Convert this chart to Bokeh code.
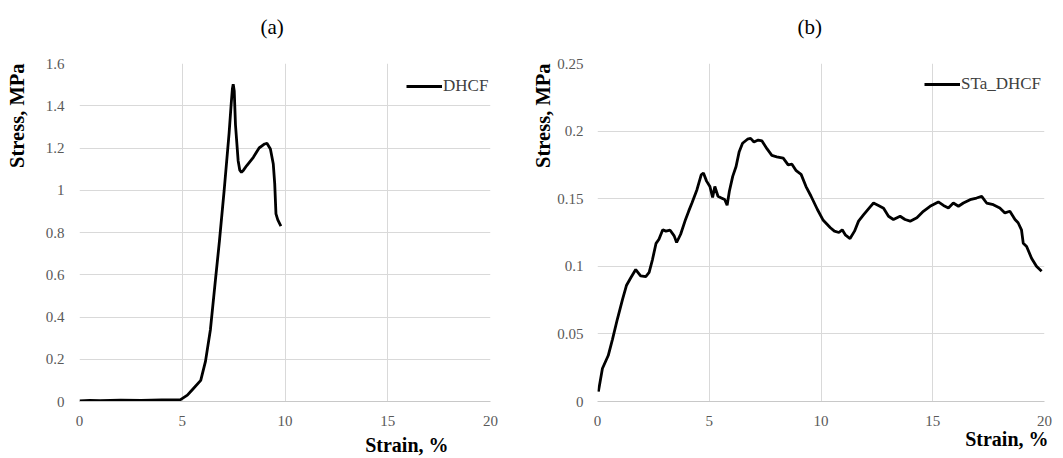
from bokeh.plotting import figure
from bokeh.layouts import row
from bokeh.models import Range1d, FixedTicker, Legend, LegendItem, Title
from bokeh.embed import file_html
from bokeh.resources import INLINE

# ---------------- data ----------------
strain_a = [0.0, 0.5, 1.0, 2.0, 3.0, 4.0, 4.9, 5.25, 5.5, 5.9, 6.13, 6.37, 6.62, 6.81,
            7.04, 7.28, 7.39, 7.44, 7.48, 7.53, 7.59, 7.72, 7.8, 7.88, 7.98, 8.14, 8.46,
            8.74, 9.01, 9.12, 9.29, 9.43, 9.5, 9.56, 9.65, 9.8]
stress_a = [0.003, 0.005, 0.004, 0.006, 0.005, 0.007, 0.008, 0.03, 0.057, 0.1, 0.19, 0.34,
            0.58, 0.76, 1.0, 1.27, 1.42, 1.48, 1.502, 1.47, 1.31, 1.14, 1.095, 1.085, 1.095,
            1.117, 1.156, 1.2, 1.219, 1.222, 1.195, 1.124, 1.03, 0.888, 0.86, 0.83]

strain_b = [0.04, 0.22, 0.48, 0.67, 0.89, 1.12, 1.3, 1.49, 1.71, 1.93, 2.16, 2.31, 2.46,
            2.62, 2.75, 2.92, 3.06, 3.25, 3.43, 3.54, 3.72, 3.94, 4.08, 4.23, 4.45, 4.64,
            4.74, 4.88, 5.03, 5.15, 5.25, 5.39, 5.54, 5.69, 5.8, 5.9, 6.05, 6.2, 6.34,
            6.49, 6.71, 6.85, 7.0, 7.19, 7.36, 7.58, 7.8, 8.02, 8.31, 8.53, 8.7, 8.89,
            9.11, 9.33, 9.55, 9.84, 10.1, 10.42, 10.6, 10.8, 10.95, 11.1, 11.3, 11.5,
            11.68, 11.9, 12.2, 12.35, 12.57, 12.8, 13.02, 13.24, 13.54, 13.76, 13.99,
            14.29, 14.58, 14.88, 15.25, 15.48, 15.7, 15.92, 16.15, 16.37, 16.67, 16.96,
            17.19, 17.41, 17.71, 18.0, 18.23, 18.45, 18.68, 18.82, 18.97, 19.05, 19.2,
            19.42, 19.64, 19.87]
stress_b = [0.0073, 0.0244, 0.034, 0.046, 0.061, 0.0756, 0.086, 0.0915, 0.0976, 0.093,
            0.0924, 0.0955, 0.105, 0.117, 0.12, 0.127, 0.126, 0.1267, 0.1225, 0.1176,
            0.1237, 0.1347, 0.1408, 0.147, 0.1567, 0.1677, 0.169, 0.163, 0.159, 0.151,
            0.159, 0.1518, 0.1506, 0.1494, 0.1452, 0.1555, 0.1665, 0.1738, 0.1848, 0.191,
            0.194, 0.1946, 0.192, 0.1934, 0.1927, 0.187, 0.182, 0.181, 0.18, 0.175,
            0.1755, 0.1707, 0.168, 0.159, 0.152, 0.142, 0.134, 0.1285, 0.126, 0.125,
            0.127, 0.123, 0.1205, 0.126, 0.1334, 0.138, 0.144, 0.1468, 0.145, 0.143,
            0.137, 0.1346, 0.137, 0.1346, 0.1334, 0.1359, 0.1407, 0.1444, 0.1476, 0.145,
            0.1432, 0.1468, 0.1444, 0.1468, 0.1493, 0.1505, 0.1517, 0.1468, 0.1456,
            0.1432, 0.1395, 0.1407, 0.1346, 0.1322, 0.127, 0.117, 0.1146, 0.106, 0.1,
            0.0963]

x_ticks = [0, 5, 10, 15, 20]
x_tick_labels = ["0", "5", "10", "15", "20"]
y_ticks_a = [0, 0.2, 0.4, 0.6, 0.8, 1.0, 1.2, 1.4, 1.6]
y_tick_labels_a = ["0", "0.2", "0.4", "0.6", "0.8", "1", "1.2", "1.4", "1.6"]
y_ticks_b = [0, 0.05, 0.1, 0.15, 0.2, 0.25]
y_tick_labels_b = ["0", "0.05", "0.1", "0.15", "0.2", "0.25"]

FONT = "Liberation Serif"
GRID = "#d9d9d9"
TICK_COLOR = "#595959"


def set_standoff(t, val, fallback=0):
    try:
        t.standoff = val
    except Exception:
        t.standoff = fallback


def make_panel(width, height, bl, br, bt, bb, ymax, yticks, ylabels, xs, ys,
               legend_label, legend_loc, legend_size, ytick_standoff,
               title, title_off, title_standoff,
               xlab_off, xlab_standoff, ylab_off, ylab_standoff, ylab_lh):
    p = figure(width=width, height=height, output_backend="svg", toolbar_location=None,
               x_range=Range1d(0, 20), y_range=Range1d(0, ymax),
               min_border_left=bl, min_border_right=br, min_border_top=bt,
               min_border_bottom=bb)
    p.outline_line_color = None
    p.background_fill_color = "white"
    p.border_fill_color = "white"

    p.xaxis.ticker = FixedTicker(ticks=x_ticks)
    p.xaxis.major_label_overrides = {t: l for t, l in zip(x_ticks, x_tick_labels)}
    p.yaxis.ticker = FixedTicker(ticks=yticks)
    p.yaxis.major_label_overrides = {t: l for t, l in zip(yticks, ylabels)}
    p.xgrid.ticker = FixedTicker(ticks=x_ticks)
    p.ygrid.ticker = FixedTicker(ticks=yticks)
    for g in (p.xgrid, p.ygrid):
        g.grid_line_color = GRID
        g.grid_line_width = 1

    for ax in (p.xaxis, p.yaxis):
        ax.major_tick_line_color = None
        ax.minor_tick_line_color = None
        ax.major_tick_out = 0
        ax.major_tick_in = 0
        ax.minor_tick_out = 0
        ax.major_label_text_font = FONT
        ax.major_label_text_font_size = "15px"
        ax.major_label_text_color = TICK_COLOR
    p.yaxis.axis_line_color = None
    p.xaxis.axis_line_color = "#c8c8c8"
    p.xaxis.major_label_standoff = 14
    p.yaxis.major_label_standoff = ytick_standoff

    r = p.line(xs, ys, line_color="black", line_width=2.8)

    leg = Legend(items=[LegendItem(label=legend_label, renderers=[r])],
                 location=legend_loc, padding=0, margin=0, spacing=0,
                 glyph_width=36, glyph_height=16, label_height=16, label_standoff=1,
                 background_fill_alpha=0, border_line_alpha=0,
                 label_text_font=FONT, label_text_font_size=legend_size,
                 label_text_color="#404040")
    p.add_layout(leg)

    t_top = Title(text=title + "\n ", align="left", offset=title_off,
                  text_font=FONT, text_font_size="21px", text_font_style="normal",
                  text_color="black")
    set_standoff(t_top, title_standoff)
    p.add_layout(t_top, "above")
    t_x = Title(text="Strain, %", align="right", offset=xlab_off,
                text_font=FONT, text_font_size="20px", text_font_style="bold",
                text_color="black")
    set_standoff(t_x, xlab_standoff)
    p.add_layout(t_x, "below")
    t_y = Title(text="Stress, MPa\n ", align="right", offset=ylab_off,
                text_font=FONT, text_font_size="20.5px", text_font_style="bold",
                text_color="black", text_line_height=ylab_lh)
    set_standoff(t_y, ylab_standoff)
    p.add_layout(t_y, "left")
    return p


pa = make_panel(530, 458, 79, 40, 63, 57, 1.6, y_ticks_a, y_tick_labels_a,
                strain_a, stress_a, "DHCF", (327, 305), "17px", 15,
                "(a)", 181, 2, 42, 6, 0, 0, 0.68)
pb = make_panel(533, 458, 67, 19, 61, 57, 0.25, y_ticks_b, y_tick_labels_b,
                strain_b, stress_b, "STa_DHCF", (327, 307), "17px", 14,
                "(b)", 200, 2, -4, -6, 0, -18, 0.45)

layout = row(pa, pb)
open("out.html", "w").write(file_html(layout, INLINE))
